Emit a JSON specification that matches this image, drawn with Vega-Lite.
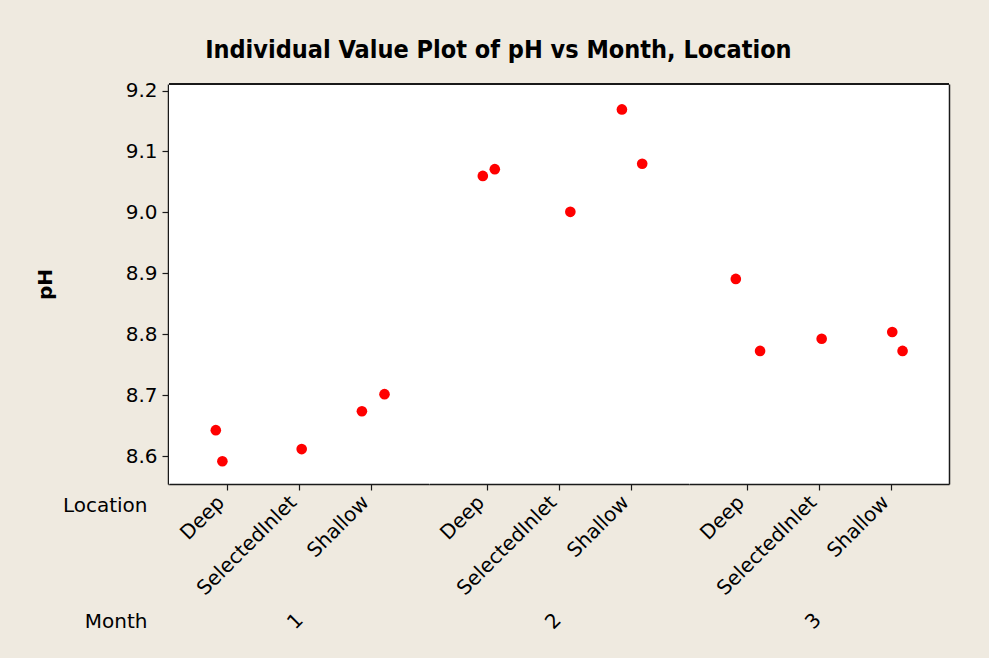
{
  "$schema": "https://vega.github.io/schema/vega-lite/v6.json",
  "background": "#EFEAE0",
  "padding": {"left": 35, "top": 37, "right": 40, "bottom": 25},
  "title": {"text": "Individual Value Plot of pH vs Month, Location", "font": "DejaVu Sans Condensed", "fontSize": 25, "fontWeight": "bold", "color": "black", "anchor": "middle", "offset": 18, "dx": 6},
  "datasets": {
    "ph": [
      {"Month": 1, "Location": "Deep", "pH": 8.643, "jitter": -0.152},
      {"Month": 1, "Location": "Deep", "pH": 8.592, "jitter": -0.061},
      {"Month": 1, "Location": "SelectedInlet", "pH": 8.612, "jitter": 0.037},
      {"Month": 1, "Location": "Shallow", "pH": 8.674, "jitter": -0.129},
      {"Month": 1, "Location": "Shallow", "pH": 8.702, "jitter": 0.184},
      {"Month": 2, "Location": "Deep", "pH": 9.06, "jitter": -0.055},
      {"Month": 2, "Location": "Deep", "pH": 9.071, "jitter": 0.111},
      {"Month": 2, "Location": "SelectedInlet", "pH": 9.001, "jitter": 0.157},
      {"Month": 2, "Location": "Shallow", "pH": 9.169, "jitter": -0.129},
      {"Month": 2, "Location": "Shallow", "pH": 9.08, "jitter": 0.152},
      {"Month": 3, "Location": "Deep", "pH": 8.891, "jitter": -0.152},
      {"Month": 3, "Location": "Deep", "pH": 8.773, "jitter": 0.184},
      {"Month": 3, "Location": "SelectedInlet", "pH": 8.793, "jitter": 0.037},
      {"Month": 3, "Location": "Shallow", "pH": 8.804, "jitter": 0.014},
      {"Month": 3, "Location": "Shallow", "pH": 8.773, "jitter": 0.157}
    ]
  },
  "data": {"name": "ph"},
  "spacing": 0,
  "bounds": "flush",
  "config": {
    "view": {"stroke": null, "fill": "white"},
    "font": "DejaVu Sans",
    "axis": {"labelFont": "DejaVu Sans", "titleFont": "DejaVu Sans", "labelColor": "black", "titleColor": "black", "labelFontSize": 20, "titleFontSize": 20, "grid": false, "domainColor": "#1a1a1a", "domainWidth": 1.5, "tickColor": "#1a1a1a", "tickWidth": 1.2, "tickSize": 6, "labelOverlap": false, "labelFlush": false}
  },
  "hconcat": [
    {
      "width": 1, "height": 400,
      "mark": {"type": "point", "opacity": 0},
      "encoding": {
        "x": {"datum": "Location", "type": "nominal", "scale": {"type": "point"},
          "axis": {"title": "Month", "titleX": -21, "titleY": 137, "titleAlign": "right", "titleBaseline": "middle", "titleAngle": 0, "titleFontWeight": "normal", "labelAngle": 0, "labelAlign": "right", "labelBaseline": "middle", "labelOffset": -21.5, "labelPadding": 21, "ticks": false, "domain": true}},
        "y": {"datum": 9, "type": "quantitative", "scale": {"domain": [8.5547, 9.2107], "nice": false, "zero": false},
          "axis": {"title": "pH", "titleFontWeight": "bold", "titleAngle": -90, "titleX": -123, "titleY": 200, "titleAlign": "center", "titleBaseline": "middle", "labelPadding": 5, "values": [8.6, 8.7, 8.8, 8.9, 9.0, 9.1, 9.2], "format": ".1f"}}
      }
    },
    {
      "width": 260, "height": 400,
      "transform": [{"filter": {"field": "Month", "equal": 1}}],
      "layer": [
        {"mark": {"type": "rule", "color": "#1a1a1a", "strokeWidth": 1.5},
         "encoding": {"y": {"datum": 9.2107, "type": "quantitative", "scale": {"domain": [8.5547, 9.2107], "nice": false, "zero": false}, "axis": null}}},
        {"mark": {"type": "circle", "size": 113, "color": "#FF0000", "opacity": 1},
         "encoding": {
           "x": {"field": "Location", "type": "nominal", "scale": {"type": "point", "padding": 0.8, "domain": ["Deep", "SelectedInlet", "Shallow"]},
             "axis": {"title": "1", "titleAngle": -45, "titleX": 126, "titleY": 137, "titleAlign": "center", "titleBaseline": "middle", "titleFontWeight": "normal", "labelAngle": -45, "labelAlign": "right", "labelBaseline": "middle", "labelOffset": -6, "labelPadding": 9}},
           "xOffset": {"field": "jitter", "type": "quantitative", "scale": {"domain": [-0.5, 0.5], "range": [-36.1, 36.1]}},
           "y": {"field": "pH", "type": "quantitative", "scale": {"domain": [8.5547, 9.2107], "nice": false, "zero": false}, "axis": null}
         }}
      ]
    },
    {
      "width": 260, "height": 400,
      "transform": [{"filter": {"field": "Month", "equal": 2}}],
      "layer": [
        {"mark": {"type": "rule", "color": "#1a1a1a", "strokeWidth": 1.5},
         "encoding": {"y": {"datum": 9.2107, "type": "quantitative", "scale": {"domain": [8.5547, 9.2107], "nice": false, "zero": false}, "axis": null}}},
        {"mark": {"type": "circle", "size": 113, "color": "#FF0000", "opacity": 1},
         "encoding": {
           "x": {"field": "Location", "type": "nominal", "scale": {"type": "point", "padding": 0.8, "domain": ["Deep", "SelectedInlet", "Shallow"]},
             "axis": {"title": "2", "titleAngle": -45, "titleX": 124, "titleY": 137, "titleAlign": "center", "titleBaseline": "middle", "titleFontWeight": "normal", "labelAngle": -45, "labelAlign": "right", "labelBaseline": "middle", "labelOffset": -6, "labelPadding": 9}},
           "xOffset": {"field": "jitter", "type": "quantitative", "scale": {"domain": [-0.5, 0.5], "range": [-36.1, 36.1]}},
           "y": {"field": "pH", "type": "quantitative", "scale": {"domain": [8.5547, 9.2107], "nice": false, "zero": false}, "axis": null}
         }}
      ]
    },
    {
      "width": 260, "height": 400,
      "transform": [{"filter": {"field": "Month", "equal": 3}}],
      "layer": [
        {"mark": {"type": "rule", "color": "#1a1a1a", "strokeWidth": 1.5},
         "encoding": {"y": {"datum": 9.2107, "type": "quantitative", "scale": {"domain": [8.5547, 9.2107], "nice": false, "zero": false}, "axis": {"orient": "right", "labels": false, "ticks": false, "title": null, "domain": true}}}},
        {"mark": {"type": "circle", "size": 113, "color": "#FF0000", "opacity": 1},
         "encoding": {
           "x": {"field": "Location", "type": "nominal", "scale": {"type": "point", "padding": 0.8, "domain": ["Deep", "SelectedInlet", "Shallow"]},
             "axis": {"title": "3", "titleAngle": -45, "titleX": 124, "titleY": 137, "titleAlign": "center", "titleBaseline": "middle", "titleFontWeight": "normal", "labelAngle": -45, "labelAlign": "right", "labelBaseline": "middle", "labelOffset": -6, "labelPadding": 9}},
           "xOffset": {"field": "jitter", "type": "quantitative", "scale": {"domain": [-0.5, 0.5], "range": [-36.1, 36.1]}},
           "y": {"field": "pH", "type": "quantitative", "scale": {"domain": [8.5547, 9.2107], "nice": false, "zero": false}, "axis": {"orient": "right", "labels": false, "ticks": false, "title": null, "domain": true}}
         }}
      ]
    }
  ]
}
